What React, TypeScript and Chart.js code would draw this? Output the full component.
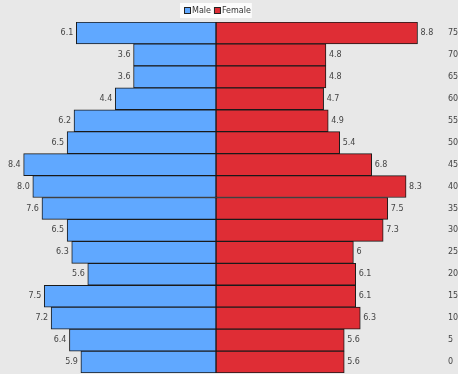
import { useEffect, useRef } from "react";
import { Chart, registerables } from "chart.js";

Chart.register(...registerables);

// Age groups, oldest at the top
const ageGroups = ["75", "70", "65", "60", "55", "50", "45", "40", "35", "30", "25", "20", "15", "10", "5", "0"];
// Share of population per age group (%)
const maleShare = [6.1, 3.6, 3.6, 4.4, 6.2, 6.5, 8.4, 8.0, 7.6, 6.5, 6.3, 5.6, 7.5, 7.2, 6.4, 5.9];
const femaleShare = [8.8, 4.8, 4.8, 4.7, 4.9, 5.4, 6.8, 8.3, 7.5, 7.3, 6, 6.1, 6.1, 6.3, 5.6, 5.6];
const seriesNames = ["Male", "Female"];
const seriesColors = ["#60a8ff", "#df2d35"];

const FONT = '"DejaVu Sans", sans-serif';
const TEXT_COLOR = "#444";

const valueLabels = {
  id: "valueLabels",
  afterDatasetsDraw(chart: any) {
    const ctx = chart.ctx;
    ctx.save();
    ctx.font = `8px ${FONT}`;
    ctx.fillStyle = TEXT_COLOR;
    ctx.textBaseline = "middle";
    chart.data.datasets.forEach((ds: any, di: number) => {
      const meta = chart.getDatasetMeta(di);
      meta.data.forEach((bar: any, i: number) => {
        const v = Math.abs(ds.data[i]);
        if (di === 0) {
          ctx.textAlign = "right";
          ctx.fillText(v.toFixed(1), bar.x - 3, bar.y);
        } else {
          ctx.textAlign = "left";
          ctx.fillText(String(v), bar.x + 3, bar.y);
        }
      });
    });
    ctx.restore();
  },
};

const topLegend = {
  id: "topLegend",
  afterDraw(chart: any) {
    const ctx = chart.ctx;
    const cx = chart.scales.x.getPixelForValue(0);
    ctx.save();
    ctx.font = `8px ${FONT}`;
    const box = 6;
    const widths = seriesNames.map((n) => ctx.measureText(n).width);
    const total = box + 1 + widths[0] + 3 + box + 1 + widths[1];
    let x = Math.round(cx - total / 2);
    ctx.fillStyle = "rgba(255,255,255,0.85)";
    ctx.fillRect(x - 4, 3, total + 7, 15);
    ctx.textBaseline = "middle";
    ctx.textAlign = "left";
    seriesNames.forEach((name, i) => {
      ctx.fillStyle = seriesColors[i];
      ctx.fillRect(x + 0.5, 7.5, box, box);
      ctx.strokeStyle = "#222";
      ctx.lineWidth = 1;
      ctx.strokeRect(x + 0.5, 7.5, box, box);
      ctx.fillStyle = "#333";
      ctx.fillText(name, x + box + 2, 10.5);
      x += box + 2 + widths[i] + 3;
    });
    ctx.restore();
  },
};

export default function App() {
  const ref = useRef<HTMLCanvasElement | null>(null);

  useEffect(() => {
    if (!ref.current) return;
    const chart = new Chart(ref.current, {
      type: "bar",
      data: {
        labels: ageGroups,
        datasets: [
          {
            label: seriesNames[0],
            data: maleShare.map((v) => -v),
            backgroundColor: seriesColors[0],
            borderColor: "#1a1a1a",
            borderWidth: 1,
            borderSkipped: false,
            barPercentage: 1,
            categoryPercentage: 1,
          },
          {
            label: seriesNames[1],
            data: femaleShare,
            backgroundColor: seriesColors[1],
            borderColor: "#1a1a1a",
            borderWidth: 1,
            borderSkipped: false,
            barPercentage: 1,
            categoryPercentage: 1,
          },
        ],
      },
      options: {
        indexAxis: "y",
        responsive: false,
        animation: false,
        devicePixelRatio: 1,
        layout: { padding: { top: 22, bottom: 1, left: 0, right: 0 } },
        plugins: { legend: { display: false }, tooltip: { enabled: false } },
        scales: {
          x: { display: false, min: -10, max: 10, stacked: true },
          y: {
            position: "right",
            stacked: true,
            grid: { display: false, drawTicks: false },
            border: { display: false },
            ticks: { color: TEXT_COLOR, font: { size: 8, family: FONT }, padding: 3 },
            afterFit(scale: any) {
              scale.width = 35;
              scale.paddingTop = 0;
              scale.paddingBottom = 0;
            },
          },
        },
      },
      plugins: [valueLabels, topLegend],
    });
    return () => chart.destroy();
  }, []);

  return (
    <div
      style={{
        position: "fixed",
        left: 0,
        top: 0,
        width: 458,
        height: 374,
        overflow: "hidden",
        background: "#e8e8e8",
      }}
    >
      <canvas
        ref={ref}
        width={493}
        height={374}
        style={{ position: "absolute", left: -13, top: 0, width: 493, height: 374 }}
      />
    </div>
  );
}
